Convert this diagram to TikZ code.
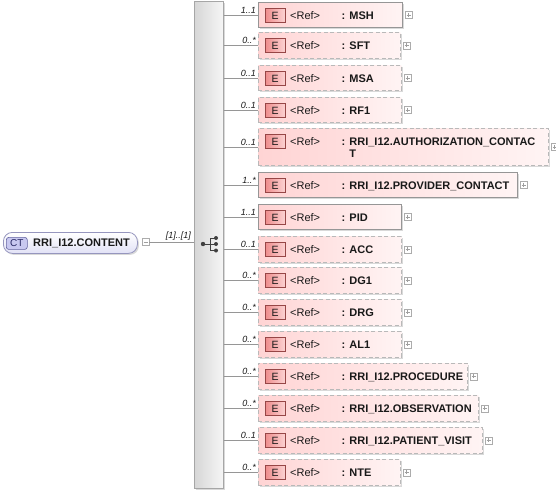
\documentclass[tikz,border=0pt]{standalone}
\usepackage{fontspec}
\setmainfont{Liberation Sans}
\usetikzlibrary{shadows,calc}
\definecolor{boxL}{RGB}{255,212,212}
\definecolor{boxR}{RGB}{255,244,244}
\definecolor{eL}{RGB}{238,140,140}
\definecolor{eR}{RGB}{252,210,210}
\definecolor{eBorder}{RGB}{150,70,70}
\definecolor{ctTop}{RGB}{255,255,255}
\definecolor{ctBot}{RGB}{226,226,246}
\definecolor{ctBorder}{RGB}{150,150,190}
\definecolor{ctIcon}{RGB}{200,200,240}
\definecolor{ctIconB}{RGB}{100,100,160}
\definecolor{ctIconT}{RGB}{40,40,100}
\definecolor{barL}{RGB}{214,214,214}
\definecolor{barR}{RGB}{246,246,246}
\definecolor{lineC}{RGB}{150,150,150}
\definecolor{txtC}{RGB}{25,25,25}
\definecolor{solidB}{RGB}{150,150,150}
\tikzset{
  shadowed/.style={drop shadow={shadow xshift=1.5pt,shadow yshift=-1.5pt,opacity=.3,fill=gray}},
  solidbox/.style={shadowed,draw=solidB,line width=.8pt,left color=boxL,right color=boxR,inner sep=0pt},
  dashbox/.style={shadowed,draw=gray!55,line width=.8pt,dash pattern=on 4pt off 2.5pt,left color=boxL,right color=boxR,inner sep=0pt},
  eicon/.style={draw=eBorder,line width=.6pt,left color=eL,right color=eR,minimum width=20pt,minimum height=14pt,inner sep=0pt,font=\fontsize{10.5}{12}\selectfont,text=txtC},
  reftxt/.style={inner sep=0pt,font=\fontsize{11}{13}\selectfont,text=txtC},
  nametxt/.style={inner sep=0pt,font=\fontsize{11}{13}\selectfont\bfseries,text=txtC},
  plusbox/.style={draw=gray!65,fill=white,minimum size=7pt,inner sep=0pt,line width=.5pt},
  plusmark/.style={draw=gray!75,line width=.5pt},
  conn/.style={draw=lineC,line width=.7pt},
  mult/.style={inner sep=0pt,font=\fontsize{9}{10}\selectfont\itshape,text=txtC},
  barnode/.style={shadowed,draw=gray!70,line width=.6pt,left color=barL,right color=barR,inner sep=0pt},
  ctnode/.style={shadowed,draw=ctBorder,line width=.8pt,top color=ctTop,bottom color=ctBot,rounded corners=9pt,inner sep=0pt},
  cticon/.style={draw=ctIconB,fill=ctIcon,rounded corners=2.5pt,minimum width=21pt,minimum height=12pt,inner sep=0pt,line width=.6pt,font=\fontsize{10}{12}\selectfont,text=ctIconT},
  seqdot/.style={fill=black!75,draw=none},
  seqline/.style={draw=black!75,line width=.8pt}
}
\newcommand\elbox[7]{%
  \node[#5, anchor=north west, minimum width=#4pt, minimum height=#3pt] (#1) at (258,#2) {};
  \node[eicon, anchor=center] (#1e) at ($(#1.north west)+(17,13.5)$) {E};
  \node[reftxt, anchor=base west] (#1r) at ($(#1.north west)+(32,17)$) {<Ref>};
  \node[nametxt, anchor=base west] (#1n) at ($(#1.north west)+(83.5,17)$) {: #7};
  \node[plusbox, anchor=west] (#1p) at ($(#1.east)+(2,0)$) {};
  \draw[plusmark] ($(#1p.center)+(-2,0)$) -- ($(#1p.center)+(2,0)$) ($(#1p.center)+(0,-2)$) -- ($(#1p.center)+(0,2)$);
  \draw[conn] (bar.east |- #1.west) -- (#1.west);
  \node[mult, anchor=south east] (#1m) at ($(#1.west)+(-2,-1.5)$) {#6};
}
\begin{document}
\begin{tikzpicture}[x=1pt,y=-1pt]
\useasboundingbox (0,0) rectangle (556,493);
% sequence bar
\node[barnode, anchor=north west, minimum width=29pt, minimum height=487pt] (bar) at (194,1) {};
% root node
\node[ctnode, anchor=north west, minimum width=134pt, minimum height=21pt] (ct) at (3,232) {};
\node[cticon, anchor=west] (cti) at ($(ct.west)+(3,0.5)$) {CT};
\node[nametxt, anchor=base west] (ctt) at (33,246.5) {RRI\_I12.CONTENT};
\node[plusbox, anchor=west] (ctm) at ($(ct.east)+(4,-1)$) {};
\draw[plusmark] ($(ctm.center)+(-2,0)$) -- ($(ctm.center)+(2,0)$);
\draw[conn] (ctm.east) -- (ctm.east -| bar.west);
\node[mult, anchor=south east] (ctl) at ($(ctm.east -| bar.west)+(-3,-1.5)$) {[1]..[1]};
% sequence icon
\coordinate (sq0) at (203,244);
\coordinate (sqm) at (210,244);
\coordinate (sq1) at (216,238);
\coordinate (sq2) at (216,244);
\coordinate (sq3) at (216,250.5);
\draw[seqline] (sq0) -- (sqm) (sqm |- sq1) -- (sqm |- sq3) (sqm |- sq1) -- (sq1) (sqm) -- (sq2) (sqm |- sq3) -- (sq3);
\fill[seqdot] (sq0) circle (2.2pt) (sq1) circle (2pt) (sq2) circle (2pt) (sq3) circle (2pt);
% children
\elbox{b1}{2}{25}{144}{solidbox}{1..1}{MSH}
\elbox{b2}{32}{26}{142}{dashbox}{0..*}{SFT}
\elbox{b3}{65}{25}{143}{dashbox}{0..1}{MSA}
\elbox{b4}{97}{25}{143}{dashbox}{0..1}{RF1}
\elbox{b5}{128}{37}{290}{dashbox}{0..1}{RRI\_I12.AUTHORIZATION\_CONTAC}
\node[nametxt, anchor=base west] (b5t) at ($(b5.north west)+(83.5,29.5)$) {\hphantom{: }T};
\elbox{b6}{172}{25}{259}{solidbox}{1..*}{RRI\_I12.PROVIDER\_CONTACT}
\elbox{b7}{204}{25}{143}{solidbox}{1..1}{PID}
\elbox{b8}{236}{26}{143}{dashbox}{0..1}{ACC}
\elbox{b9}{267}{26}{143}{dashbox}{0..*}{DG1}
\elbox{b10}{299}{26}{143}{dashbox}{0..*}{DRG}
\elbox{b11}{331}{26}{143}{dashbox}{0..*}{AL1}
\elbox{b12}{363}{26}{209}{dashbox}{0..*}{RRI\_I12.PROCEDURE}
\elbox{b13}{395}{26}{220}{dashbox}{0..*}{RRI\_I12.OBSERVATION}
\elbox{b14}{427}{26}{224}{dashbox}{0..1}{RRI\_I12.PATIENT\_VISIT}
\elbox{b15}{459}{26}{142}{dashbox}{0..*}{NTE}
\end{tikzpicture}
\end{document}
